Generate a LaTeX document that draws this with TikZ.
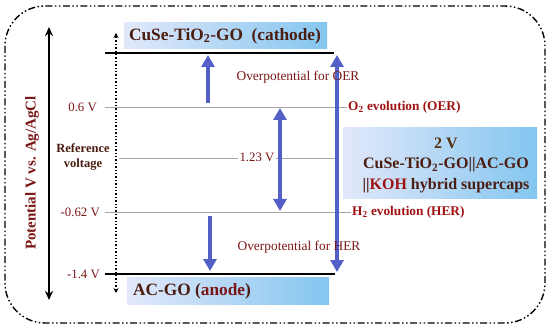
\documentclass[tikz,border=0pt]{standalone}
\usepackage{fontspec}
\setmainfont{Liberation Serif}
\usetikzlibrary{arrows.meta}
\definecolor{ttlbrown}{HTML}{4B1C10}
\definecolor{dred}{HTML}{7A1616}
\definecolor{kred}{HTML}{A01212}
\definecolor{arrblue}{HTML}{5260C8}
\definecolor{lvlgray}{HTML}{A8A8A8}
\definecolor{boxl}{HTML}{E2E8FA}
\definecolor{boxr}{HTML}{84C6F0}
\tikzset{
  gbox/.style={draw=none, shading=axis, left color=boxl, right color=boxr, minimum height=26pt, inner sep=0pt},
  ttl/.style={font=\fontsize{17.3}{19}\selectfont\bfseries, text=ttlbrown, inner sep=1pt},
  lvl/.style={font=\fontsize{12.8}{14}\selectfont, text=dred, inner sep=1pt},
  evo/.style={font=\fontsize{13.3}{15}\selectfont\bfseries, text=kred, inner sep=1pt},
  opt/.style={font=\fontsize{13.4}{15}\selectfont, text=dred, inner sep=1pt},
  elec/.style={line width=2.2pt, black},
  level/.style={line width=0.9pt, lvlgray},
  barr/.style={line width=4pt, arrblue, -{Triangle[width=13pt,length=12pt]}},
  bbarr/.style={line width=4pt, arrblue, {Triangle[width=13pt,length=12pt]}-{Triangle[width=13pt,length=12pt]}},
}
\begin{document}
\begin{tikzpicture}[x=1pt,y=-1pt]
\useasboundingbox (0,0) rectangle (550,329);
% outer frame
\draw[line width=1.4pt, rounded corners=40pt, dash pattern=on 7pt off 2.5pt on 1.5pt off 2.5pt on 1.5pt off 2.5pt] (5,6) rectangle (545,323);

% axis
\coordinate (axtop) at (49,27);
\coordinate (axbot) at (49,300);
\draw[line width=1.8pt, {Stealth[length=9pt,width=8pt]}-{Stealth[length=9pt,width=8pt]}] (axbot) -- (axtop);
\node[rotate=90, font=\fontsize{15}{17}\selectfont\bfseries, text=dred] (axlab) at (32,173) {Potential V vs. Ag/AgCl};

% dotted reference arrow
\coordinate (dtop) at (116,33);
\coordinate (dbot) at (116,293);
\draw[line width=1.4pt, dotted, {Stealth[length=5pt,width=5pt]}-{Stealth[length=5pt,width=5pt]}] (dbot) -- (dtop);

% boxes
\node[gbox, minimum width=203pt] (cbox) at (225.5,36) {};
\node[ttl] (ctxt) at (225,36) {CuSe-TiO\textsubscript{2}-GO\ \ (cathode)};
\node[gbox, minimum width=202pt, minimum height=27pt] (abox) at (228,290.5) {};
\node[ttl, anchor=west] (atxt) at (132,291) {AC-GO (\textcolor{dred}{anode})};
\node[gbox, minimum width=194pt, minimum height=71pt] (rbox) at (440,163.5) {};
\node[ttl, align=center, font=\fontsize{16}{20.5}\selectfont\bfseries] (rtxt) at (446,165)
  {\textcolor{ttlbrown!80!olive}{2 V}\\CuSe-TiO\textsubscript{2}-GO\textbar\textbar AC-GO\\\textbar\textbar\textcolor{kred}{KOH} hybrid supercaps};

% electrode lines
\coordinate (cl) at (105,53);
\coordinate (cr) at (334,53);
\coordinate (al) at (105,274);
\coordinate (ar) at (335,274);
\draw[elec] (cl) -- (cr);
\draw[elec] (al) -- (ar);

% level labels and lines
\node[lvl, anchor=east] (v06) at (98,107) {0.6 V};
\node[evo, anchor=west] (oer) at (347,107) {O\textsubscript{2} evolution (OER)};
\coordinate (l06) at (105,107);
\draw[level] (l06) -- (oer.west);

\coordinate (r1) at (119,158);
\coordinate (r2) at (335,158);
\draw[level] (r1) -- (r2);
\node[font=\fontsize{12.5}{14.5}\selectfont\bfseries, text=ttlbrown, align=center, inner sep=1pt] (refv) at (83,157) {Reference\\voltage};

\node[lvl, anchor=east] (v062) at (101,212) {-0.62 V};
\node[evo, anchor=west] (her) at (351,212) {H\textsubscript{2} evolution (HER)};
\coordinate (l062) at (105,212);
\draw[level] (l062) -- (her.west);

\node[lvl, anchor=east] (v14) at (101,274) {-1.4 V};

% blue arrows
\coordinate (a1s) at (208,103);
\coordinate (a1e) at (208,55);
\draw[barr] (a1s) -- (a1e);
\coordinate (a2s) at (280,108);
\coordinate (a2e) at (280,211);
\draw[bbarr] (a2s) -- (a2e);
\coordinate (a3s) at (210,216);
\coordinate (a3e) at (210,271);
\draw[barr] (a3s) -- (a3e);
\coordinate (a4s) at (337,55);
\coordinate (a4e) at (337,272);
\draw[bbarr] (a4s) -- (a4e);

\node[lvl, fill=white, inner sep=1.5pt] (v123) at (257,157) {1.23 V};
\node[opt] (oopt) at (298,77) {Overpotential for OER};
\node[opt] (hopt) at (299,247) {Overpotential for HER};
\end{tikzpicture}
\end{document}
